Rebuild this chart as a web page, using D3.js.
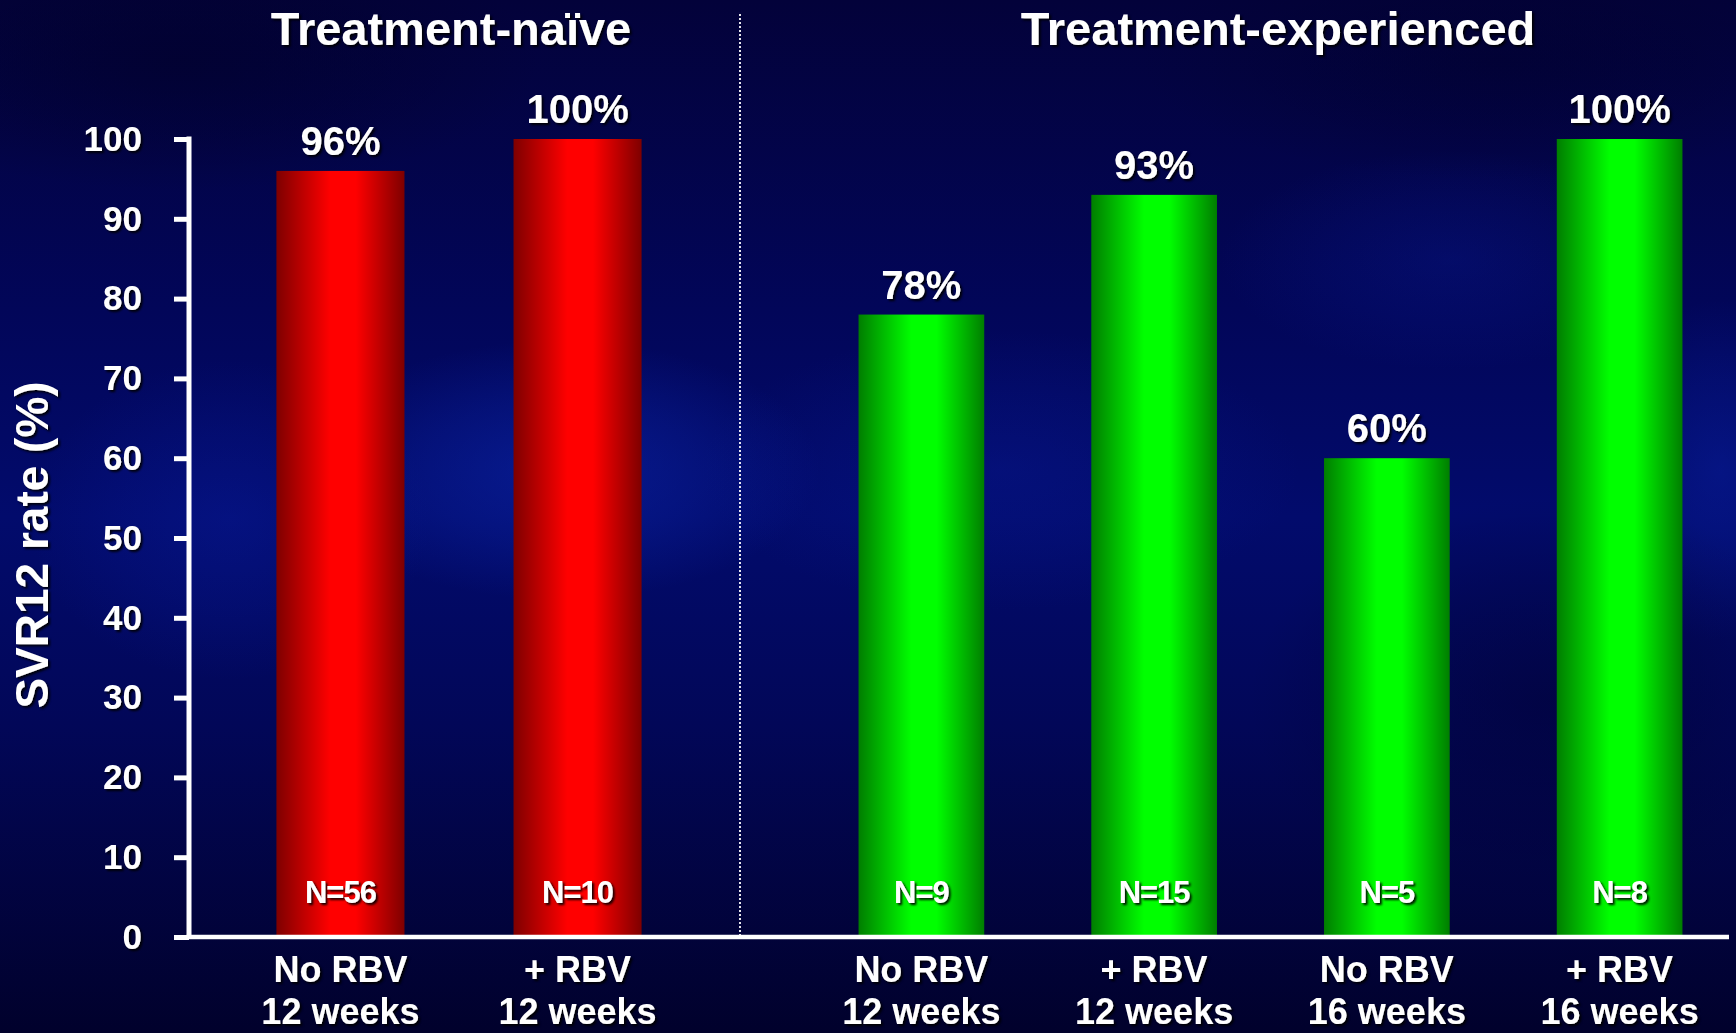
<!DOCTYPE html>
<html>
<head>
<meta charset="utf-8">
<script src="https://cdn.jsdelivr.net/npm/d3@7"></script>
<style>
  html, body { margin: 0; padding: 0; background: #02022e; }
  svg { display: block; }
  text { font-family: "Liberation Sans", Arial, sans-serif; font-weight: bold; fill: #ffffff; }
</style>
</head>
<body>
<svg id="chart" width="1736" height="1033"></svg>
<script>
// SVR12 by treatment history and regimen
const groups = ["Treatment-naïve", "Treatment-experienced"];
const armGroup = [0, 0, 1, 1, 1, 1];
const regimen = ["No RBV", "+ RBV", "No RBV", "+ RBV", "No RBV", "+ RBV"];
const duration = ["12 weeks", "12 weeks", "12 weeks", "12 weeks", "16 weeks", "16 weeks"];
const svrRate = [96, 100, 78, 93, 60, 100];
const nPatients = [56, 10, 9, 15, 5, 8];
const yTicks = [0, 10, 20, 30, 40, 50, 60, 70, 80, 90, 100];
const yTitle = "SVR12 rate (%)";

const W = 1736, H = 1033;
const svg = d3.select("#chart");
const defs = svg.append("defs");

// ---- background: deep navy with soft lighter / darker patches ----
const bg = defs.append("linearGradient").attr("id", "bg").attr("x1", 0).attr("y1", 0).attr("x2", 0).attr("y2", 1);
[["0%", "#03023a"], ["30%", "#020659"], ["50%", "#020b6c"], ["70%", "#020758"], ["100%", "#01012c"]]
  .forEach(([o, c]) => bg.append("stop").attr("offset", o).attr("stop-color", c));
svg.append("rect").attr("width", W).attr("height", H).attr("fill", "url(#bg)");

const patches = [
  { cx: 560, cy: 470, rx: 260, ry: 130, c: "#0c28b0", o: 0.55 },
  { cx: 230, cy: 520, rx: 200, ry: 160, c: "#0a1ea6", o: 0.35 },
  { cx: 1000, cy: 470, rx: 300, ry: 140, c: "#0a1ea0", o: 0.3 },
  { cx: 1450, cy: 260, rx: 230, ry: 110, c: "#0a20a6", o: 0.25 },
  { cx: 1720, cy: 470, rx: 130, ry: 170, c: "#0a24ac", o: 0.4 },
  { cx: 180, cy: 60, rx: 360, ry: 130, c: "#01012a", o: 0.6 },
  { cx: 1550, cy: 700, rx: 300, ry: 200, c: "#010130", o: 0.5 },
  { cx: 1500, cy: 60, rx: 360, ry: 120, c: "#01012c", o: 0.5 }
];
patches.forEach((p, k) => {
  const rg = defs.append("radialGradient").attr("id", "patch" + k);
  rg.append("stop").attr("offset", "0%").attr("stop-color", p.c).attr("stop-opacity", p.o);
  rg.append("stop").attr("offset", "55%").attr("stop-color", p.c).attr("stop-opacity", p.o * 0.5);
  rg.append("stop").attr("offset", "100%").attr("stop-color", p.c).attr("stop-opacity", 0);
});
svg.append("g").selectAll("ellipse").data(patches).join("ellipse")
  .attr("cx", p => p.cx).attr("cy", p => p.cy).attr("rx", p => p.rx).attr("ry", p => p.ry)
  .attr("fill", (p, k) => `url(#patch${k})`);

// ---- text shadow ----
defs.append("filter").attr("id", "shadow").attr("x", "-20%").attr("y", "-20%").attr("width", "140%").attr("height", "140%")
  .append("feDropShadow").attr("dx", 2).attr("dy", 2).attr("stdDeviation", 0.8)
  .attr("flood-color", "#000").attr("flood-opacity", 0.9);

// ---- bar gradients (cylindrical shading) ----
function barGradient(id, dark, bright) {
  const g = defs.append("linearGradient").attr("id", id).attr("x1", 0).attr("y1", 0).attr("x2", 1).attr("y2", 0);
  [["0%", dark], ["42%", bright], ["62%", bright], ["100%", dark]]
    .forEach(([o, c]) => g.append("stop").attr("offset", o).attr("stop-color", c));
}
barGradient("barRed", "#7e0000", "#ff0000");
barGradient("barGreen", "#007e00", "#00ff00");
const groupFill = ["url(#barRed)", "url(#barGreen)"];

// ---- scales ----
const y = d3.scaleLinear().domain([0, 100]).range([937, 139]);
const groupRange = [[229, 689], [812, 1729]];
const arms = d3.range(svrRate.length);
const xInner = groups.map((_, gi) =>
  d3.scaleBand()
    .domain(arms.filter(i => armGroup[i] === gi))
    .range(groupRange[gi])
    .paddingInner(0.46)
    .paddingOuter(0.2));
const xLeft = i => xInner[armGroup[i]](i);
const bw = i => xInner[armGroup[i]].bandwidth();
const xMid = i => xLeft(i) + bw(i) / 2;

const axisX = 189;

// ---- group divider ----
svg.append("line").attr("x1", 740).attr("x2", 740).attr("y1", 14).attr("y2", 935)
  .attr("stroke", "#ffffff").attr("stroke-width", 2).attr("stroke-dasharray", "2,2").attr("opacity", 0.9);

// ---- bars ----
svg.append("g").selectAll("rect").data(arms).join("rect")
  .attr("x", xLeft)
  .attr("width", bw)
  .attr("y", i => y(svrRate[i]))
  .attr("height", i => y(0) - y(svrRate[i]))
  .attr("fill", i => groupFill[armGroup[i]]);

// ---- y axis ----
const yAxis = d3.axisLeft(y).tickValues(yTicks).tickSize(15).tickPadding(32).tickFormat(d3.format("d"));
const gy = svg.append("g").attr("transform", `translate(${axisX},0)`).call(yAxis);
gy.select(".domain").remove();
gy.selectAll(".tick line").attr("stroke", "#fff").attr("stroke-width", 5);
gy.selectAll(".tick text").attr("font-size", 35).attr("fill", "#fff")
  .attr("font-family", "'Liberation Sans', Arial, sans-serif").attr("font-weight", "bold")
  .attr("filter", "url(#shadow)");
svg.append("line").attr("x1", axisX).attr("x2", axisX).attr("y1", y(100) - 2.5).attr("y2", y(0))
  .attr("stroke", "#fff").attr("stroke-width", 5);

// ---- x axis baseline ----
svg.append("line").attr("x1", axisX - 2.5).attr("x2", groupRange[1][1]).attr("y1", y(0)).attr("y2", y(0))
  .attr("stroke", "#fff").attr("stroke-width", 4.5);

// ---- labels ----
const labels = svg.append("g").attr("filter", "url(#shadow)");

labels.selectAll("text.group").data(groups).join("text")
  .attr("class", "group")
  .attr("x", (d, gi) => gi === 0 ? 451 : 1278)
  .attr("y", 45)
  .attr("text-anchor", "middle")
  .attr("font-size", 47)
  .text(d => d);

labels.selectAll("text.pct").data(arms).join("text")
  .attr("class", "pct")
  .attr("x", xMid)
  .attr("y", i => y(svrRate[i]) - 16)
  .attr("text-anchor", "middle")
  .attr("font-size", 40)
  .text(i => svrRate[i] + "%");

labels.selectAll("text.n").data(arms).join("text")
  .attr("class", "n")
  .attr("x", xMid)
  .attr("y", 903)
  .attr("text-anchor", "middle")
  .attr("font-size", 31)
  .attr("letter-spacing", -1)
  .text(i => "N=" + nPatients[i]);

labels.selectAll("text.reg").data(arms).join("text")
  .attr("class", "reg")
  .attr("x", xMid)
  .attr("y", 982)
  .attr("text-anchor", "middle")
  .attr("font-size", 36)
  .text(i => regimen[i]);

labels.selectAll("text.dur").data(arms).join("text")
  .attr("class", "dur")
  .attr("x", xMid)
  .attr("y", 1024)
  .attr("text-anchor", "middle")
  .attr("font-size", 36)
  .text(i => duration[i]);

labels.append("text")
  .attr("transform", "translate(48,545) rotate(-90)")
  .attr("text-anchor", "middle")
  .attr("font-size", 46)
  .text(yTitle);
</script>
</body>
</html>
